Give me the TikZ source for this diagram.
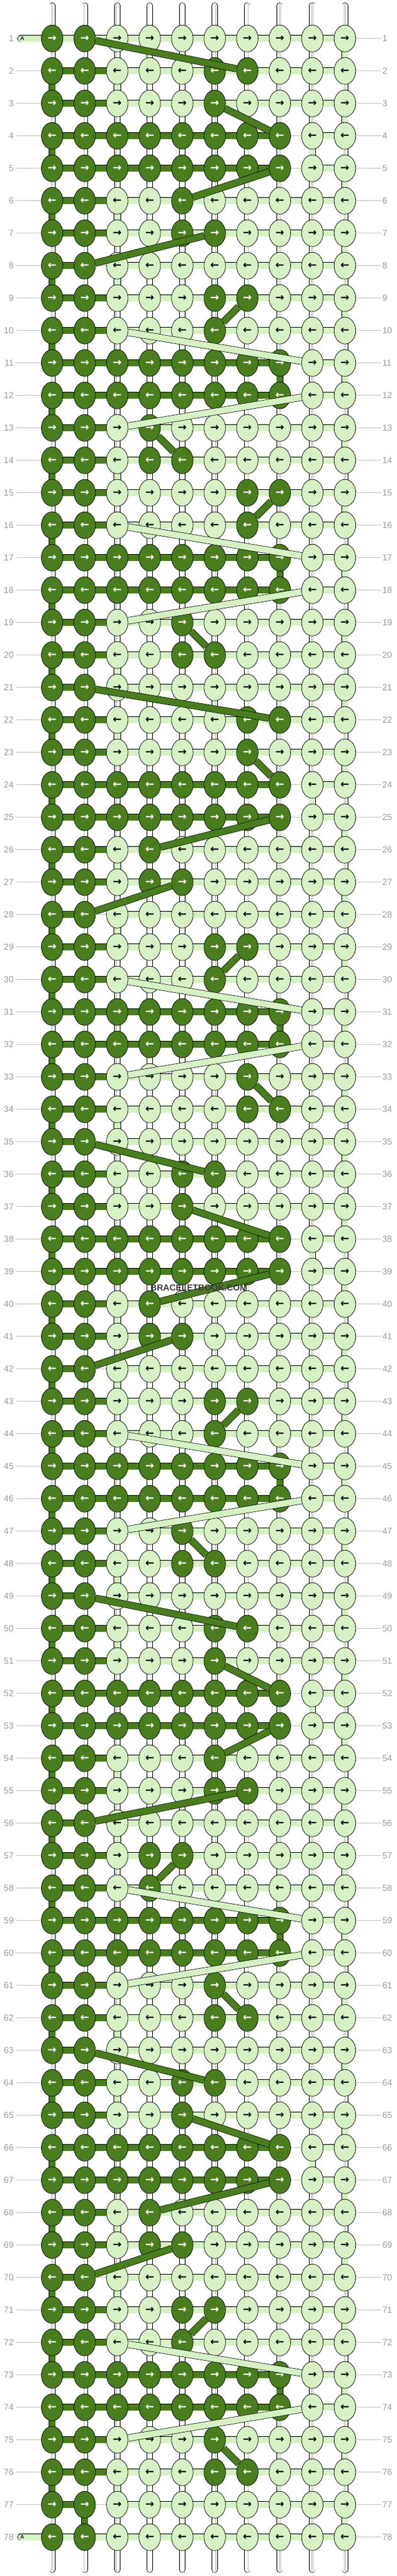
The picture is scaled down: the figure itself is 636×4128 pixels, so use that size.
\documentclass[tikz,border=0pt]{standalone}
\usepackage{fontspec}
\setmainfont{Liberation Sans}
\newfontfamily\arrowfont{DejaVu Sans}
\usetikzlibrary{shapes.geometric}
\definecolor{dk}{RGB}{73,125,30}
\definecolor{lt}{RGB}{214,242,196}
\definecolor{labgray}{RGB}{155,155,155}
\definecolor{guidegray}{RGB}{195,195,195}
\definecolor{wm}{RGB}{60,60,60}
\pgfdeclarelayer{paper}
\pgfdeclarelayer{guide}
\pgfdeclarelayer{bg}
\pgfsetlayers{paper,guide,bg,main}
\tikzset{
  knotbase/.style={ellipse, draw=black, line width=0.7, minimum width=34.5, minimum height=43, inner sep=0pt, font=\arrowfont\bfseries\fontsize{17}{17}\selectfont},
  knotD/.style={knotbase, fill=dk, text=white},
  knotL/.style={knotbase, fill=lt, text=black},
  barD/.style={draw=black, line width=0.7, double=dk, double distance=10},
  barL/.style={draw=black, line width=0.7, double=lt, double distance=10},
  warp/.style={draw=black, line width=0.7, double=white, double distance=8.6, line cap=round},
  warpin/.style={draw=gray!55, line width=0.6, double=white, double distance=1.6},
  guideline/.style={draw=guidegray, line width=0.9},
  lab/.style={text=labgray, font=\fontsize{14}{14}\selectfont, inner sep=0pt},
  alab/.style={text=black!85, font=\bfseries\fontsize{9}{9}\selectfont, inner sep=0pt},
  wmark/.style={text=wm, font=\bfseries\fontsize{14}{14}\selectfont, inner sep=0pt}
}
\begin{document}
\begin{tikzpicture}[x=1pt,y=-1pt]
\begin{pgfonlayer}{paper}
\fill[white] (0,0) rectangle (636,4128);
\end{pgfonlayer}
\useasboundingbox (0,0) rectangle (636,4128);
% warp strings
\foreach \c in {1,...,10}{
  \pgfmathsetmacro\xx{83.6+52.1*(\c-1)}
  \coordinate (wt-\c) at (\xx,9);
  \coordinate (wb-\c) at (\xx,4117.7);
  \coordinate (wti-\c) at (\xx,6);
  \coordinate (wbi-\c) at (\xx,4120);
  \begin{pgfonlayer}{bg}
    \draw[warp] (wt-\c) -- (wb-\c);
    \draw[warpin] (wti-\c) -- (wbi-\c);
  \end{pgfonlayer}
}
% rows
\foreach \r/\ds/\mx/\ml in {
1/{1,2}/2/0, 2/{1,2,6,7}/7/3, 3/{1,2,6}/6/3, 4/{1,2,3,4,5,6,7,8}/8/9, 5/{1,2,3,4,5,6,7,8}/8/9,
6/{1,2,5}/5/3, 7/{1,2,5,6}/6/3, 8/{1,2}/2/3, 9/{1,2,6,7}/7/3, 10/{1,2,6}/6/3,
11/{1,2,3,4,5,6,7,8}/8/9, 12/{1,2,3,4,5,6,7,8}/8/9, 13/{1,2,4}/4/3, 14/{1,2,4,5}/5/3, 15/{1,2,7,8}/8/3,
16/{1,2,7}/7/3, 17/{1,2,3,4,5,6,7,8}/8/9, 18/{1,2,3,4,5,6,7,8}/8/9, 19/{1,2,5}/5/3, 20/{1,2,5,6}/6/3,
21/{1,2}/2/3, 22/{1,2,7,8}/8/3, 23/{1,2,7}/7/3, 24/{1,2,3,4,5,6,7,8}/8/9, 25/{1,2,3,4,5,6,7,8}/8/9,
26/{1,2,4}/4/3, 27/{1,2,4,5}/5/3, 28/{1,2}/2/3, 29/{1,2,6,7}/7/3, 30/{1,2,6}/6/3,
31/{1,2,3,4,5,6,7,8}/8/9, 32/{1,2,3,4,5,6,7,8}/8/9, 33/{1,2,7}/7/3, 34/{1,2,7,8}/8/3, 35/{1,2}/2/3,
36/{1,2,5,6}/6/3, 37/{1,2,5}/5/3, 38/{1,2,3,4,5,6,7,8}/8/9, 39/{1,2,3,4,5,6,7,8}/8/9, 40/{1,2,4}/4/3,
41/{1,2,4,5}/5/3, 42/{1,2}/2/3, 43/{1,2,6,7}/7/3, 44/{1,2,6}/6/3, 45/{1,2,3,4,5,6,7,8}/8/9,
46/{1,2,3,4,5,6,7,8}/8/9, 47/{1,2,5}/5/3, 48/{1,2,5,6}/6/3, 49/{1,2}/2/3, 50/{1,2,6,7}/7/3,
51/{1,2,6}/6/3, 52/{1,2,3,4,5,6,7,8}/8/9, 53/{1,2,3,4,5,6,7,8}/8/9, 54/{1,2,6}/6/3, 55/{1,2,6,7}/7/3,
56/{1,2}/2/3, 57/{1,2,4,5}/5/3, 58/{1,2,4}/4/3, 59/{1,2,3,4,5,6,7,8}/8/9, 60/{1,2,3,4,5,6,7,8}/8/9,
61/{1,2,6}/6/3, 62/{1,2,6,7}/7/3, 63/{1,2}/2/3, 64/{1,2,5,6}/6/3, 65/{1,2,5}/5/3,
66/{1,2,3,4,5,6,7,8}/8/9, 67/{1,2,3,4,5,6,7,8}/8/9, 68/{1,2,4}/4/3, 69/{1,2,4,5}/5/3, 70/{1,2}/2/3,
71/{1,2,5,6}/6/3, 72/{1,2,5}/5/3, 73/{1,2,3,4,5,6,7,8}/8/9, 74/{1,2,3,4,5,6,7,8}/8/9, 75/{1,2,6}/6/3,
76/{1,2,6,7}/7/3, 77/{1,2}/2/3, 78/{1,2}/2/0}{
  \expandafter\xdef\csname mx\r\endcsname{\mx}
  \expandafter\xdef\csname ml\r\endcsname{\ml}
  \pgfmathsetmacro\yy{61.7+52*(\r-1)}
  \ifodd\r \def\arr{→}\else\def\arr{←}\fi
  \coordinate (gl-\r) at (26.4,\yy);
  \coordinate (gr-\r) at (610.5,\yy);
  \begin{pgfonlayer}{guide}
    \draw[guideline] (gl-\r) -- (gr-\r);
  \end{pgfonlayer}
  \node[lab, anchor=east] (ll-\r) at (22,\yy) {\r};
  \node[lab, anchor=west] (lr-\r) at (612.5,\yy) {\r};
  \foreach \c in {1,...,10}{
    \gdef\kc{L}
    \foreach \d in \ds {\ifnum\d=\c\relax\gdef\kc{D}\fi}
    \pgfmathsetmacro\xx{83.6+52.1*(\c-1)}
    \node[knot\kc] (n-\r-\c) at (\xx,\yy) {\arr};
  }
  \pgfmathtruncatemacro\mxm{\mx-1}
  \pgfmathtruncatemacro\lst{max(\ml,1)}
  \begin{pgfonlayer}{bg}
    \foreach \c in {1,...,\mxm}{
      \pgfmathtruncatemacro\cn{\c+1}
      \draw[barD] (n-\r-\c.center) -- (n-\r-\cn.center);
    }
    \foreach \c in {\lst,...,9}{
      \pgfmathtruncatemacro\cn{\c+1}
      \draw[barL] (n-\r-\c.center) -- (n-\r-\cn.center);
    }
    \ifnum\ml=0
      \coordinate (A-\r) at (33.5,\yy);
      \draw[barL, line cap=round] (A-\r) -- (n-\r-1.center);
    \fi
  \end{pgfonlayer}
  \ifnum\ml=0
    \node[alab] (At-\r) at (35.5,\yy) {A};
  \fi
}
% transitions between rows
\foreach \r in {1,...,77}{
  \pgfmathtruncatemacro\rn{\r+1}
  \edef\ma{\csname mx\r\endcsname}
  \edef\mb{\csname mx\rn\endcsname}
  \edef\la{\csname ml\r\endcsname}
  \edef\lb{\csname ml\rn\endcsname}
  \ifodd\r
    \begin{pgfonlayer}{bg}
      \draw[barL] (n-\r-10.center) -- (n-\rn-10.center);
      \ifnum\ma=\mb \draw[barD] (n-\r-\ma.center) -- (n-\rn-\mb.center);\fi
    \end{pgfonlayer}
    \ifnum\ma=\mb\else \draw[barD] (n-\r-\ma) -- (n-\rn-\mb);\fi
  \else
    \begin{pgfonlayer}{bg}
      \draw[barD] (n-\r-1.center) -- (n-\rn-1.center);
      \ifnum\la=\lb \draw[barL] (n-\r-\la.center) -- (n-\rn-\lb.center);\fi
    \end{pgfonlayer}
    \ifnum\la=\lb\else \draw[barL] (n-\r-\la) -- (n-\rn-\lb);\fi
  \fi
}
\node[wmark] (wmk) at (318.6,2063.5) {BRACELETBOOK.COM};
\end{tikzpicture}
\end{document}
